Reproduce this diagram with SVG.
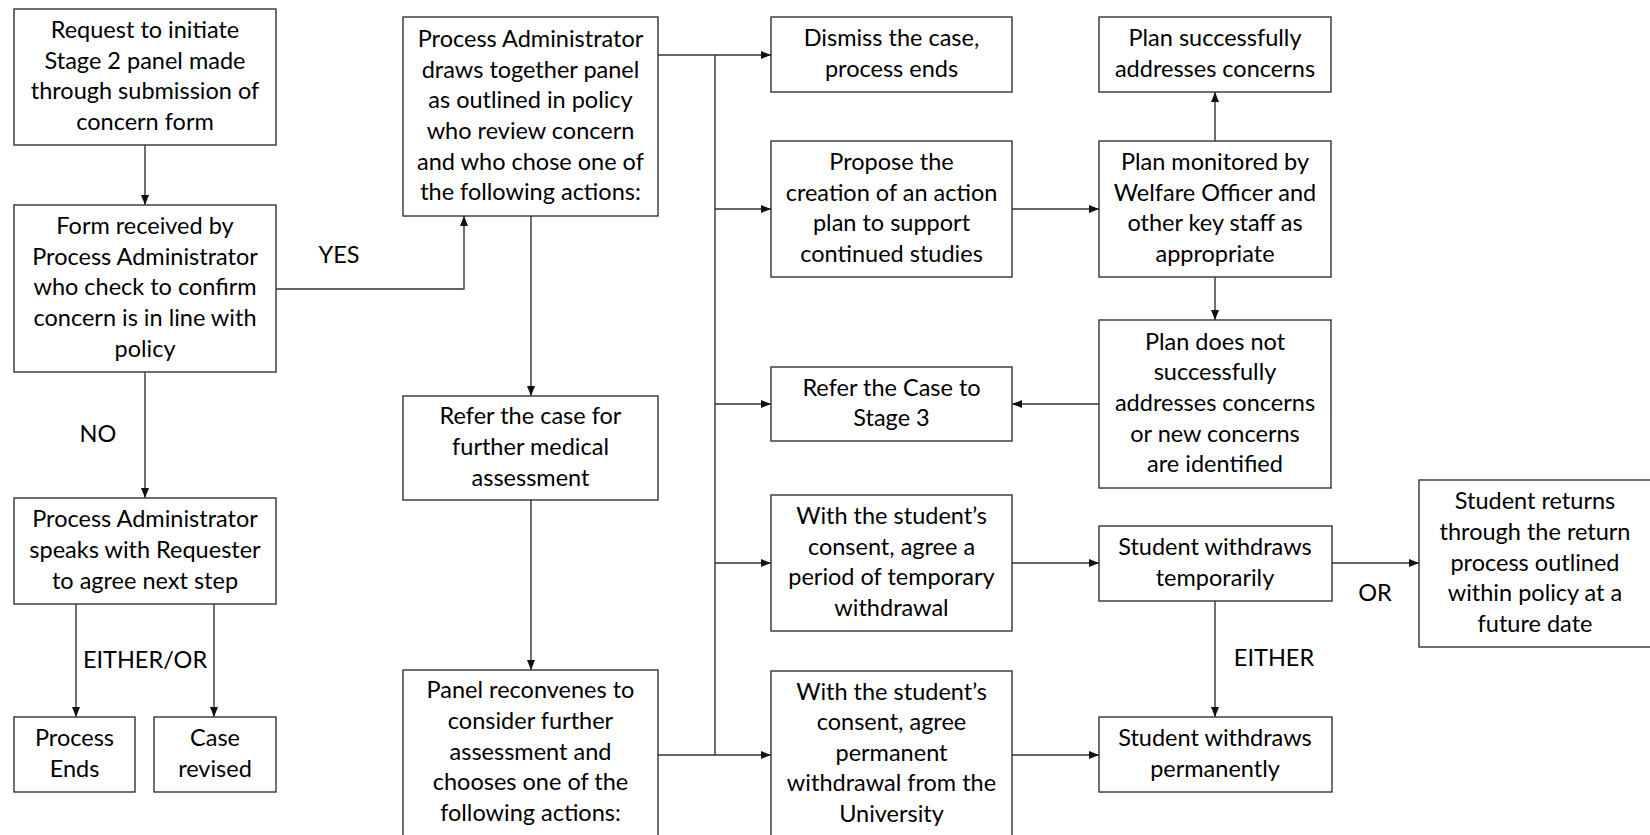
<svg xmlns="http://www.w3.org/2000/svg" width="1650" height="835" viewBox="0 0 1650 835">
<style>
.box{fill:#fff;stroke:#333;stroke-width:1.4}
.t{font-family:Lato,"Liberation Sans",sans-serif;font-size:23.5px;fill:#000;text-anchor:middle}
.c{fill:none;stroke:#333;stroke-width:1.4}
</style>
<defs>
<marker id="ah" markerUnits="userSpaceOnUse" markerWidth="10" markerHeight="8" refX="10" refY="4" orient="auto">
<path d="M0,0 L10,4 L0,8 z" fill="#111"/>
</marker>
</defs>
<rect width="1650" height="835" fill="#fff"/>
<g id="connectors">
<path class="c" d="M145,145 V205" marker-end="url(#ah)"/>
<path class="c" d="M145,372 V498" marker-end="url(#ah)"/>
<path class="c" d="M76,604 V717" marker-end="url(#ah)"/>
<path class="c" d="M214,604 V717" marker-end="url(#ah)"/>
<path class="c" d="M276,289 H464 V216" marker-end="url(#ah)"/>
<path class="c" d="M658,55 H771" marker-end="url(#ah)"/>
<path class="c" d="M715,55 V755"/>
<path class="c" d="M715,209 H771" marker-end="url(#ah)"/>
<path class="c" d="M715,404 H771" marker-end="url(#ah)"/>
<path class="c" d="M715,563 H771" marker-end="url(#ah)"/>
<path class="c" d="M658,755 H771" marker-end="url(#ah)"/>
<path class="c" d="M531,216 V396" marker-end="url(#ah)"/>
<path class="c" d="M531,500 V670" marker-end="url(#ah)"/>
<path class="c" d="M1012,209 H1099" marker-end="url(#ah)"/>
<path class="c" d="M1215,141 V92" marker-end="url(#ah)"/>
<path class="c" d="M1215,277 V320" marker-end="url(#ah)"/>
<path class="c" d="M1099,404 H1012" marker-end="url(#ah)"/>
<path class="c" d="M1012,563 H1099" marker-end="url(#ah)"/>
<path class="c" d="M1332,563 H1419" marker-end="url(#ah)"/>
<path class="c" d="M1215,601 V717" marker-end="url(#ah)"/>
<path class="c" d="M1012,755 H1099" marker-end="url(#ah)"/>
<text class="t" x="339" y="263">YES</text>
<text class="t" x="98" y="442">NO</text>
<text class="t" x="145" y="668">EITHER/OR</text>
<text class="t" x="1375" y="601">OR</text>
<text class="t" x="1274" y="666">EITHER</text>
</g>
<g id="n-request">
<rect class="box" x="14" y="9" width="262" height="136"/>
<text class="t"><tspan x="145" y="38">Request to initiate</tspan><tspan x="145" y="69">Stage 2 panel made</tspan><tspan x="145" y="99">through submission of</tspan><tspan x="145" y="130">concern form</tspan></text>
</g>
<g id="n-form">
<rect class="box" x="14" y="205" width="262" height="167"/>
<text class="t"><tspan x="145" y="234">Form received by</tspan><tspan x="145" y="265">Process Administrator</tspan><tspan x="145" y="295">who check to confirm</tspan><tspan x="145" y="326">concern is in line with</tspan><tspan x="145" y="357">policy</tspan></text>
</g>
<g id="n-speaks">
<rect class="box" x="14" y="498" width="262" height="106"/>
<text class="t"><tspan x="145" y="527">Process Administrator</tspan><tspan x="145" y="558">speaks with Requester</tspan><tspan x="145" y="589">to agree next step</tspan></text>
</g>
<g id="n-ends">
<rect class="box" x="14" y="717" width="121" height="75"/>
<text class="t"><tspan x="74.5" y="746">Process</tspan><tspan x="74.5" y="777">Ends</tspan></text>
</g>
<g id="n-revised">
<rect class="box" x="154" y="717" width="122" height="75"/>
<text class="t"><tspan x="215" y="746">Case</tspan><tspan x="215" y="777">revised</tspan></text>
</g>
<g id="n-panel">
<rect class="box" x="403" y="17" width="255" height="199"/>
<text class="t"><tspan x="530.5" y="47">Process Administrator</tspan><tspan x="530.5" y="78">draws together panel</tspan><tspan x="530.5" y="108">as outlined in policy</tspan><tspan x="530.5" y="139">who review concern</tspan><tspan x="530.5" y="170">and who chose one of</tspan><tspan x="530.5" y="200">the following actions:</tspan></text>
</g>
<g id="n-medical">
<rect class="box" x="403" y="396" width="255" height="104"/>
<text class="t"><tspan x="530.5" y="424">Refer the case for</tspan><tspan x="530.5" y="455">further medical</tspan><tspan x="530.5" y="486">assessment</tspan></text>
</g>
<g id="n-reconvene">
<rect class="box" x="403" y="670" width="255" height="180"/>
<text class="t"><tspan x="530.5" y="698">Panel reconvenes to</tspan><tspan x="530.5" y="729">consider further</tspan><tspan x="530.5" y="760">assessment and</tspan><tspan x="530.5" y="790">chooses one of the</tspan><tspan x="530.5" y="821">following actions:</tspan></text>
</g>
<g id="n-dismiss">
<rect class="box" x="771" y="17" width="241" height="75"/>
<text class="t"><tspan x="891.5" y="46">Dismiss the case,</tspan><tspan x="891.5" y="77">process ends</tspan></text>
</g>
<g id="n-propose">
<rect class="box" x="771" y="141" width="241" height="136"/>
<text class="t"><tspan x="891.5" y="170">Propose the</tspan><tspan x="891.5" y="201">creation of an action</tspan><tspan x="891.5" y="231">plan to support</tspan><tspan x="891.5" y="262">continued studies</tspan></text>
</g>
<g id="n-stage3">
<rect class="box" x="771" y="367" width="241" height="74"/>
<text class="t"><tspan x="891.5" y="396">Refer the Case to</tspan><tspan x="891.5" y="426">Stage 3</tspan></text>
</g>
<g id="n-temp">
<rect class="box" x="771" y="495" width="241" height="136"/>
<text class="t"><tspan x="891.5" y="524">With the student’s</tspan><tspan x="891.5" y="555">consent, agree a</tspan><tspan x="891.5" y="585">period of temporary</tspan><tspan x="891.5" y="616">withdrawal</tspan></text>
</g>
<g id="n-perm">
<rect class="box" x="771" y="671" width="241" height="180"/>
<text class="t"><tspan x="891.5" y="700">With the student’s</tspan><tspan x="891.5" y="730">consent, agree</tspan><tspan x="891.5" y="761">permanent</tspan><tspan x="891.5" y="791">withdrawal from the</tspan><tspan x="891.5" y="822">University</tspan></text>
</g>
<g id="n-success">
<rect class="box" x="1099" y="17" width="232" height="75"/>
<text class="t"><tspan x="1215" y="46">Plan successfully</tspan><tspan x="1215" y="77">addresses concerns</tspan></text>
</g>
<g id="n-monitored">
<rect class="box" x="1099" y="141" width="232" height="136"/>
<text class="t"><tspan x="1215" y="170">Plan monitored by</tspan><tspan x="1215" y="201">Welfare Officer and</tspan><tspan x="1215" y="231">other key staff as</tspan><tspan x="1215" y="262">appropriate</tspan></text>
</g>
<g id="n-notsuccess">
<rect class="box" x="1099" y="320" width="232" height="168"/>
<text class="t"><tspan x="1215" y="350">Plan does not</tspan><tspan x="1215" y="380">successfully</tspan><tspan x="1215" y="411">addresses concerns</tspan><tspan x="1215" y="442">or new concerns</tspan><tspan x="1215" y="472">are identified</tspan></text>
</g>
<g id="n-withdraw-temp">
<rect class="box" x="1099" y="526" width="233" height="75"/>
<text class="t"><tspan x="1215" y="555">Student withdraws</tspan><tspan x="1215" y="586">temporarily</tspan></text>
</g>
<g id="n-withdraw-perm">
<rect class="box" x="1099" y="717" width="233" height="75"/>
<text class="t"><tspan x="1215" y="746">Student withdraws</tspan><tspan x="1215" y="777">permanently</tspan></text>
</g>
<g id="n-returns">
<rect class="box" x="1419" y="480" width="240" height="167"/>
<text class="t"><tspan x="1535" y="509">Student returns</tspan><tspan x="1535" y="540">through the return</tspan><tspan x="1535" y="571">process outlined</tspan><tspan x="1535" y="601">within policy at a</tspan><tspan x="1535" y="632">future date</tspan></text>
</g>
</svg>
